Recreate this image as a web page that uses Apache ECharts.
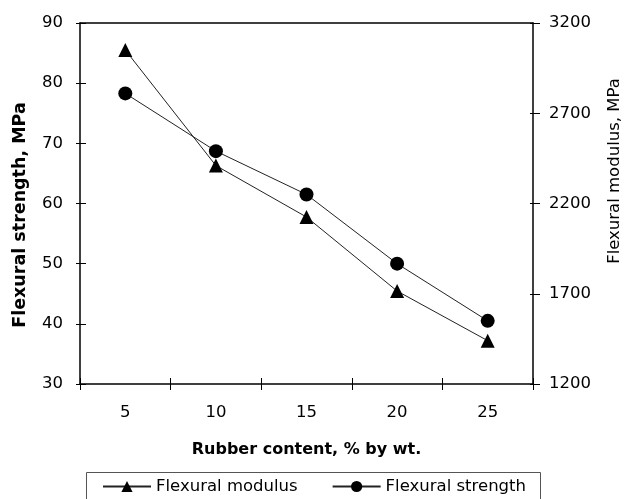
<!DOCTYPE html>
<html>
<head>
<meta charset="utf-8">
<script src="https://cdn.jsdelivr.net/npm/echarts@6/dist/echarts.min.js"></script>
<style>
  html, body { margin: 0; padding: 0; background: #fff; }
  #chart { width: 624px; height: 499px; }
</style>
</head>
<body>
<div id="chart"></div>
<script>
// Rubber content (% by wt.) on the category axis
const rubberContent = ['5', '10', '15', '20', '25'];
// Flexural strength, MPa (left axis)
const flexuralStrength = [78.3, 68.7, 61.5, 50.0, 40.5];
// Flexural modulus, MPa (right axis)
const flexuralModulus = [3050, 2410, 2125, 1715, 1440];

const FONT = 'DejaVu Sans';
const FS = 16.5;

const chart = echarts.init(document.getElementById('chart'), null, { renderer: 'canvas' });

const axisLine = { show: true, lineStyle: { color: '#000', width: 1.5 } };
const tickStyle = { color: '#000', width: 1 };
const labelStyle = { color: '#000', fontFamily: FONT, fontSize: FS };
const plain = v => String(v);

chart.setOption({
  animation: false,
  backgroundColor: '#fff',
  grid: { left: 80, right: 91, top: 23, bottom: 115, containLabel: false },
  xAxis: [
    {
      type: 'category', data: rubberContent, position: 'bottom',
      axisLine: axisLine,
      axisTick: { show: true, inside: false, length: 6, lineStyle: tickStyle },
      axisLabel: Object.assign({ margin: 20 }, labelStyle),
      splitLine: { show: false }
    },
    {
      type: 'category', data: rubberContent, position: 'bottom',
      axisLine: { show: false },
      axisTick: { show: true, inside: true, length: 6, lineStyle: tickStyle },
      axisLabel: { show: false },
      splitLine: { show: false }
    },
    {
      type: 'category', data: rubberContent, position: 'top',
      axisLine: axisLine,
      axisTick: { show: false },
      axisLabel: { show: false },
      splitLine: { show: false }
    }
  ],
  yAxis: [
    {
      type: 'value', position: 'left', min: 30, max: 90, interval: 10,
      axisLine: axisLine,
      axisTick: { show: true, inside: false, length: 4, lineStyle: tickStyle },
      axisLabel: Object.assign({ margin: 17, formatter: plain }, labelStyle),
      splitLine: { show: false }
    },
    {
      type: 'value', position: 'right', min: 1200, max: 3200, interval: 500,
      axisLine: axisLine,
      axisTick: { show: true, inside: false, length: 7, lineStyle: tickStyle },
      axisLabel: Object.assign({ margin: 16, formatter: plain }, labelStyle),
      splitLine: { show: false }
    },
    {
      type: 'value', position: 'left', min: 30, max: 90, interval: 10,
      axisLine: { show: false },
      axisTick: { show: true, inside: true, length: 6, lineStyle: tickStyle },
      axisLabel: { show: false },
      splitLine: { show: false }
    },
    {
      type: 'value', position: 'right', min: 1200, max: 3200, interval: 500,
      axisLine: { show: false },
      axisTick: { show: true, inside: true, length: 3, lineStyle: tickStyle },
      axisLabel: { show: false },
      splitLine: { show: false }
    }
  ],
  legend: {
    left: 102, top: 478, padding: 0,
    itemWidth: 48, itemHeight: 14, itemGap: 34,
    textStyle: { color: '#000', fontFamily: FONT, fontSize: FS },
    data: ['Flexural modulus', 'Flexural strength']
  },
  series: [
    {
      name: 'Flexural modulus', type: 'line', yAxisIndex: 1,
      data: flexuralModulus,
      symbol: 'triangle', symbolSize: 14,
      itemStyle: { color: '#000' },
      lineStyle: { color: '#222', width: 1 }
    },
    {
      name: 'Flexural strength', type: 'line', yAxisIndex: 0,
      data: flexuralStrength,
      symbol: 'circle', symbolSize: 14,
      itemStyle: { color: '#000' },
      lineStyle: { color: '#222', width: 1 }
    }
  ],
  graphic: [
    {
      type: 'text', x: 20, y: 215, rotation: Math.PI / 2,
      style: { text: 'Flexural strength, MPa', fill: '#000', font: 'bold 17.5px "DejaVu Sans"', align: 'center', verticalAlign: 'middle' }
    },
    {
      type: 'text', x: 615, y: 171, rotation: Math.PI / 2,
      style: { text: 'Flexural modulus, MPa', fill: '#000', font: '16.5px "DejaVu Sans"', align: 'center', verticalAlign: 'middle' }
    },
    {
      type: 'text', x: 306.5, y: 450,
      style: { text: 'Rubber content, % by wt.', fill: '#000', font: 'bold 16px "DejaVu Sans"', align: 'center', verticalAlign: 'middle' }
    },
    {
      type: 'rect', shape: { x: 86.5, y: 472.5, width: 454, height: 60 },
      style: { fill: 'none', stroke: '#555', lineWidth: 1 }
    }
  ]
});
</script>
</body>
</html>
